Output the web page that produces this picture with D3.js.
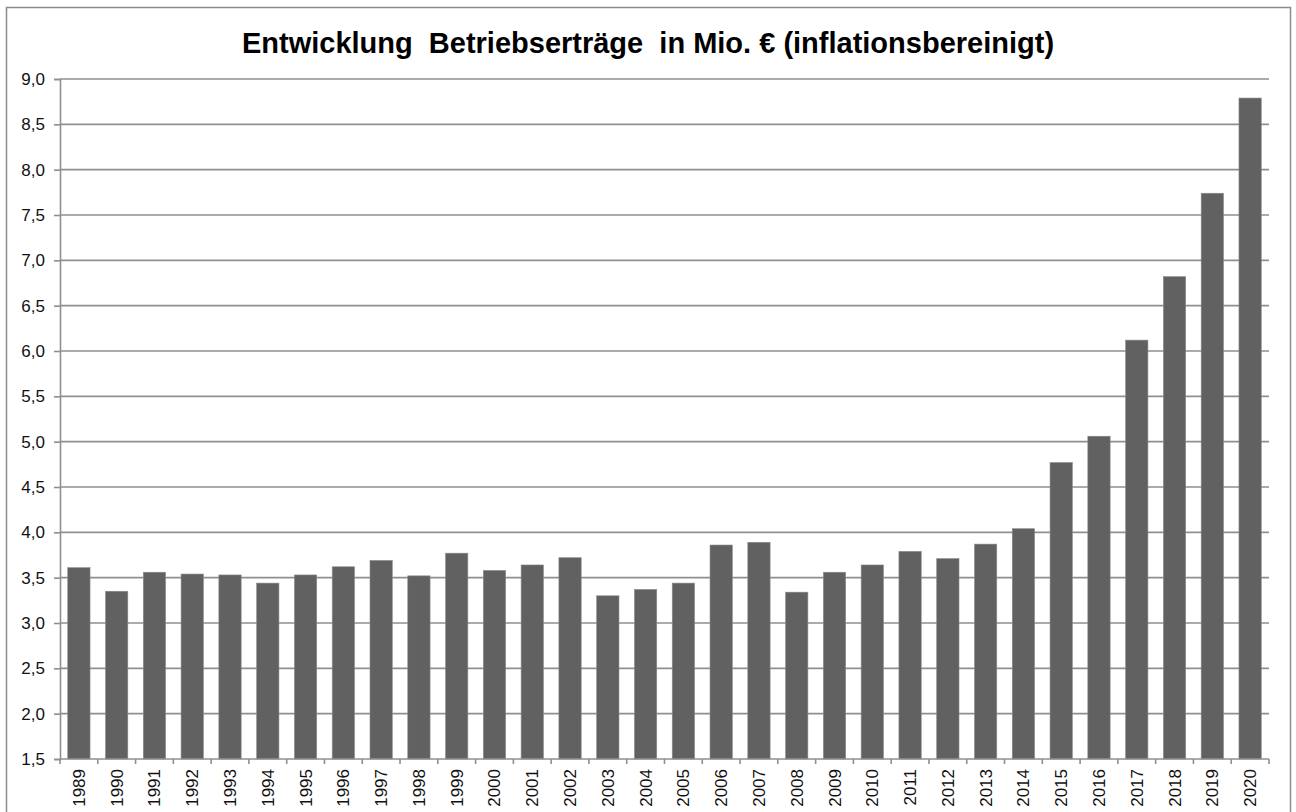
<!DOCTYPE html>
<html>
<head>
<meta charset="utf-8">
<script src="https://cdn.jsdelivr.net/npm/d3@7"></script>
<style>
  body { margin: 0; background: #fff; }
  svg { display: block; font-family: "Liberation Sans", Arial, sans-serif; }
</style>
</head>
<body>
<div id="chart"></div>
<script>
const years = [1989,1990,1991,1992,1993,1994,1995,1996,1997,1998,1999,2000,2001,2002,2003,2004,
  2005,2006,2007,2008,2009,2010,2011,2012,2013,2014,2015,2016,2017,2018,2019,2020];
const ertraege = [3.61,3.35,3.56,3.54,3.53,3.44,3.53,3.62,3.69,3.52,3.77,3.58,3.64,3.72,3.30,3.37,
  3.44,3.86,3.89,3.34,3.56,3.64,3.79,3.71,3.87,4.04,4.77,5.06,6.12,6.82,7.74,8.79];
const yTicks = [1.5,2,2.5,3,3.5,4,4.5,5,5.5,6,6.5,7,7.5,8,8.5,9];
const title = "Entwicklung  Betriebserträge  in Mio. € (inflationsbereinigt)";

const W = 1296, H = 812;
const margin = {top: 79, right: 27, bottom: 53, left: 60};
const width = W - margin.left - margin.right;
const height = H - margin.top - margin.bottom;
const font = "'Liberation Sans', Arial, sans-serif";

const svg = d3.select("#chart").append("svg")
  .attr("width", W)
  .attr("height", H);

// outer frame
svg.append("rect")
  .attr("x", 6.5).attr("y", 7.5)
  .attr("width", 1284).attr("height", 820)
  .attr("fill", "none")
  .attr("stroke", "#8c8c8c")
  .attr("stroke-width", 1.5);

svg.append("text")
  .attr("x", W / 2)
  .attr("y", 53)
  .attr("text-anchor", "middle")
  .style("font-size", "29px")
  .style("font-weight", "bold")
  .style("white-space", "pre")
  .attr("xml:space", "preserve")
  .text(title);

const g = svg.append("g")
  .attr("transform", "translate(" + margin.left + "," + margin.top + ")");

const x = d3.scaleBand().domain(years).range([0, width]).paddingInner(0.41).paddingOuter(0.205);
const y = d3.scaleLinear().domain([1.5, 9]).range([height, 0]);

// gridlines
g.append("g")
  .selectAll("line")
  .data(yTicks.slice(1))
  .enter().append("line")
    .attr("x1", 0).attr("x2", width)
    .attr("y1", d => y(d)).attr("y2", d => y(d))
    .attr("stroke", "#8f8f8f")
    .attr("stroke-width", 1.6);

// bars
g.append("g")
  .selectAll("rect")
  .data(ertraege)
  .enter().append("rect")
    .attr("x", (d, i) => x(years[i]))
    .attr("y", d => y(d))
    .attr("width", x.bandwidth())
    .attr("height", d => height - y(d))
    .attr("fill", "#616161")
    .attr("stroke", "#8a8a8a")
    .attr("stroke-width", 0.6);

// y axis
const yAxis = g.append("g")
  .call(d3.axisLeft(y).tickValues(yTicks).tickSize(6).tickFormat(d => d3.format(".1f")(d).replace(".", ",")))
  .attr("font-family", font);
yAxis.select(".domain").attr("stroke", "#8f8f8f").attr("stroke-width", 1.6);
yAxis.selectAll(".tick line").attr("stroke", "#8f8f8f").attr("stroke-width", 1.6);
yAxis.selectAll(".tick text")
  .attr("x", -15)
  .attr("fill", "#111")
  .style("font-size", "17px");

// x axis with ticks at band boundaries
const xAxis = g.append("g")
  .attr("transform", "translate(0," + height + ")");
xAxis.append("line")
  .attr("x1", 0).attr("x2", width)
  .attr("stroke", "#8f8f8f").attr("stroke-width", 1.6);
const step = x.step();
xAxis.selectAll(".xtick")
  .data(d3.range(years.length + 1))
  .enter().append("line")
    .attr("class", "xtick")
    .attr("x1", i => i * step).attr("x2", i => i * step)
    .attr("y1", 0).attr("y2", 5)
    .attr("stroke", "#8f8f8f").attr("stroke-width", 1.6);
xAxis.selectAll(".xlabel")
  .data(years)
  .enter().append("text")
    .attr("class", "xlabel")
    .attr("transform", d => "translate(" + (x(d) + x.bandwidth() / 2 + 6) + ",10) rotate(-90)")
    .attr("text-anchor", "end")
    .attr("fill", "#111")
    .style("font-size", "17px")
    .text(d => d);
</script>
</body>
</html>
